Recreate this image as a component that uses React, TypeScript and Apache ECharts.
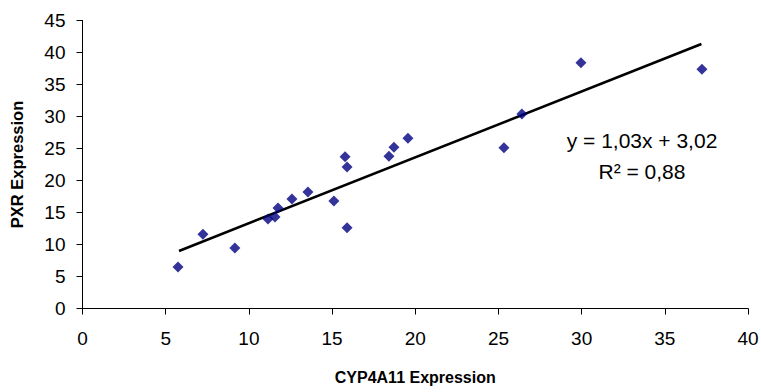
import React, { useEffect, useRef } from "react";
import * as echarts from "echarts";

const cyp4a11 = [5.74, 7.24, 9.16, 11.15, 11.57, 11.75, 12.59, 13.55, 15.11, 15.78, 15.9, 15.9, 18.42, 18.72, 19.56, 25.33, 26.41, 29.96, 37.23];
const pxr = [6.5, 11.6, 9.45, 14.0, 14.3, 15.7, 17.1, 18.2, 16.8, 23.7, 22.1, 12.6, 23.8, 25.2, 26.6, 25.1, 30.4, 38.4, 37.4];
const slope = 1.03;
const intercept = 3.02;
const trendX = [5.8, 37.2];
const xTicks = [0, 40, 5];
const yTicks = [0, 45, 5];
const equationText = "y = 1,03x + 3,02";
const r2Text = "R² = 0,88";

export default function App() {
  const ref = useRef<HTMLDivElement>(null);
  useEffect(() => {
    document.body.style.margin = "0";
    document.body.style.overflow = "hidden";
    if (!ref.current) return;
    const chart = echarts.init(ref.current, undefined, { renderer: "svg" });
    const font = "'Liberation Sans', Arial, sans-serif";
    const points = cyp4a11.map((x, i) => [x, pxr[i]]);
    const trend = trendX.map((x) => [x, slope * x + intercept]);
    chart.setOption({
      animation: false,
      backgroundColor: "#ffffff",
      grid: { left: 82.5, right: 13, top: 20.5, bottom: 83.5, outerBoundsMode: "none", containLabel: false },
      xAxis: {
        type: "value",
        min: xTicks[0],
        max: xTicks[1],
        interval: xTicks[2],
        name: "CYP4A11 Expression",
        nameLocation: "middle",
        nameGap: 61,
        nameTextStyle: { fontFamily: font, fontSize: 16, fontWeight: "bold", color: "#000" },
        axisLine: { lineStyle: { color: "#000", width: 1 } },
        axisTick: { show: true, length: 6, lineStyle: { color: "#000" } },
        axisLabel: { fontFamily: font, fontSize: 19, color: "#000", margin: 20 },
        splitLine: { show: false },
      },
      yAxis: {
        type: "value",
        min: yTicks[0],
        max: yTicks[1],
        interval: yTicks[2],
        name: "PXR Expression",
        nameLocation: "middle",
        nameGap: 57,
        nameTextStyle: { fontFamily: font, fontSize: 16.5, fontWeight: "bold", color: "#000" },
        axisLine: { show: true, lineStyle: { color: "#000", width: 1 } },
        axisTick: { show: true, length: 6, lineStyle: { color: "#000" } },
        axisLabel: { fontFamily: font, fontSize: 19, color: "#000", margin: 17 },
        splitLine: { show: false },
      },
      series: [
        {
          type: "line",
          data: trend,
          showSymbol: false,
          symbol: "none",
          lineStyle: { color: "#000", width: 2.6 },
          z: 2,
        },
        {
          type: "scatter",
          data: points,
          symbol: "diamond",
          symbolSize: 11,
          itemStyle: { color: "#000080" },
          z: 3,
        },
      ],
      graphic: [
        {
          type: "text",
          x: 642,
          y: 140,
          style: {
            text: equationText,
            fontFamily: font,
            fontSize: 21,
            fill: "#000",
            align: "center",
            verticalAlign: "middle",
          },
        },
        {
          type: "text",
          x: 642,
          y: 171,
          style: {
            text: r2Text,
            fontFamily: font,
            fontSize: 21,
            fill: "#000",
            align: "center",
            verticalAlign: "middle",
          },
        },
      ],
    });
    return () => chart.dispose();
  }, []);
  return <div ref={ref} style={{ width: 761, height: 392 }} />;
}
